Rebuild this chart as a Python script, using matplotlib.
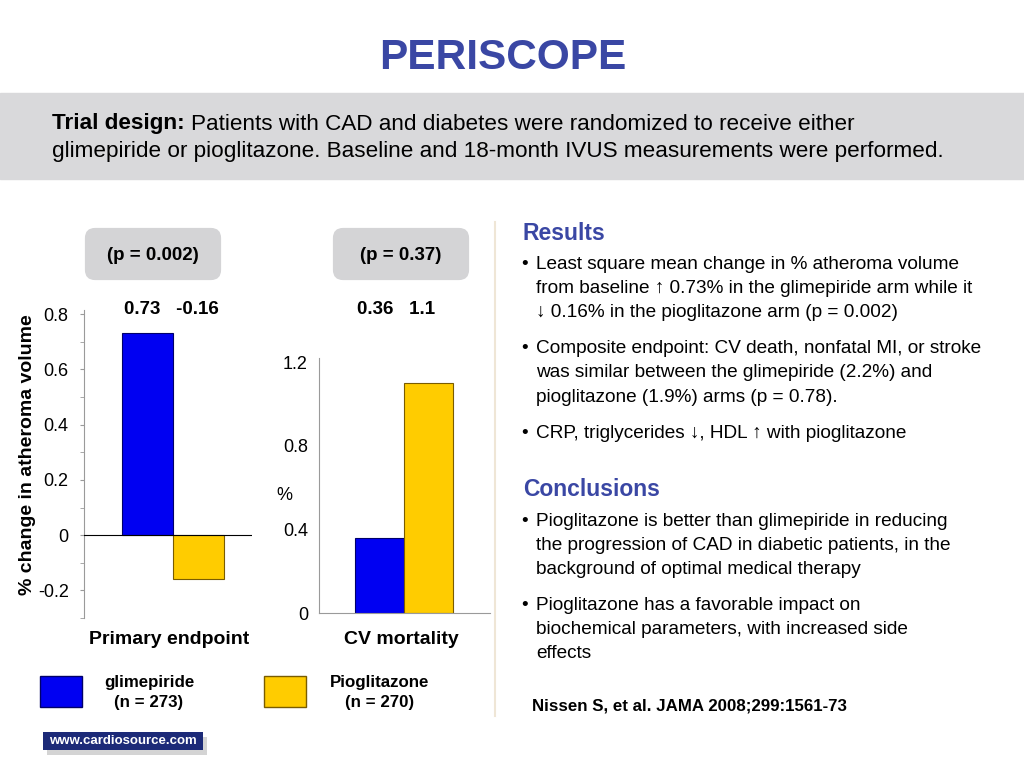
import matplotlib
matplotlib.use('Agg')
import matplotlib.pyplot as plt
from matplotlib.patches import FancyBboxPatch, Rectangle

plt.rcParams['font.family'] = ['Liberation Sans', 'DejaVu Sans']

# data
arms = ['glimepiride', 'Pioglitazone']
arm_n = ['(n = 273)', '(n = 270)']
atheroma_change = [0.73, -0.16]
cv_mortality = [0.36, 1.1]
p_values = ['(p = 0.002)', '(p = 0.37)']
panel_names = ['Primary endpoint', 'CV mortality']
left_ticks = [-0.2, 0, 0.2, 0.4, 0.6, 0.8]
right_ticks = [0, 0.4, 0.8, 1.2]

arm_colors = ['#0000f2', '#ffcc00']
edge_colors = ['#00006a', '#7a5c00']
navy = '#3a47a4'

results = [
    ['Least square mean change in % atheroma volume',
     'from baseline \u2191 0.73% in the glimepiride arm while it',
     '\u2193 0.16% in the pioglitazone arm (p = 0.002)'],
    ['Composite endpoint: CV death, nonfatal MI, or stroke',
     'was similar between the glimepiride (2.2%) and',
     'pioglitazone (1.9%) arms (p = 0.78).'],
    ['CRP, triglycerides \u2193, HDL \u2191 with pioglitazone'],
]
conclusions = [
    ['Pioglitazone is better than glimepiride in reducing',
     'the progression of CAD in diabetic patients, in the',
     'background of optimal medical therapy'],
    ['Pioglitazone has a favorable impact on',
     'biochemical parameters, with increased side',
     'effects'],
]

W, H = 1024, 768
fig = plt.figure(figsize=(W / 100, H / 100), dpi=100)


def fx(x):
    return x / W


def fy(y):
    return 1 - y / H


def txt(x, y, s, **kw):
    return fig.text(fx(x), fy(y), s, **kw)


# title and trial design band
txt(503, 58, 'PERISCOPE', ha='center', va='center', fontsize=30.5,
    fontweight='bold', color=navy)
fig.patches.append(Rectangle((0, fy(179)), 1, (179 - 93) / H,
                             transform=fig.transFigure, color='#d9d9db', zorder=0))
bold = txt(52, 124, 'Trial design:', ha='left', va='center', fontsize=16.2,
           fontweight='bold')
r = fig.canvas.get_renderer()
bx = bold.get_window_extent(r).x1
txt(bx + 6, 124, 'Patients with CAD and diabetes were randomized to receive either',
    ha='left', va='center', fontsize=16.2)
txt(52, 151, 'glimepiride or pioglitazone. Baseline and 18-month IVUS measurements were performed.',
    ha='left', va='center', fontsize=16.2)

# separator
fig.add_artist(plt.Line2D([fx(495), fx(495)], [fy(222), fy(716)],
                          transform=fig.transFigure, color='#efe6d6', lw=1.5))

# left panel: % change in atheroma volume
ax1 = fig.add_axes([fx(84), fy(618), (252 - 84) / W, (618 - 310) / H])
ax1.bar([-0.5, 0.5], atheroma_change, width=1.0, color=arm_colors,
        edgecolor=edge_colors, linewidth=0.8, zorder=2)
ax1.axhline(0, color='black', lw=0.8, zorder=3)
ax1.set_xlim(-1.745, 1.55)
ax1.set_ylim(-0.3, 0.815)
ax1.set_yticks(left_ticks)
ax1.set_yticklabels([f'{v:g}' for v in left_ticks])
ax1.set_yticks([v / 10 for v in range(-3, 9)], minor=True)
ax1.set_xticks([])
for s in ['top', 'right', 'bottom']:
    ax1.spines[s].set_visible(False)
ax1.spines['left'].set_color('#9a9a9a')
ax1.spines['left'].set_linewidth(0.8)
ax1.tick_params(axis='y', which='both', length=3, color='#9a9a9a', labelsize=13, pad=8)
ax1.patch.set_alpha(0)

# right panel: CV mortality
ax2 = fig.add_axes([fx(319), fy(613), (490 - 319) / W, (613 - 358) / H])
ax2.bar([-0.5, 0.5], cv_mortality, width=1.0, color=arm_colors,
        edgecolor=edge_colors, linewidth=0.8, zorder=2)
ax2.set_xlim(-1.75, 1.77)
ax2.set_ylim(0, 1.22)
ax2.set_yticks(right_ticks)
ax2.set_yticklabels([f'{v:g}' for v in right_ticks])
ax2.set_xticks([])
for s in ['top', 'right']:
    ax2.spines[s].set_visible(False)
for s in ['left', 'bottom']:
    ax2.spines[s].set_color('#9a9a9a')
    ax2.spines[s].set_linewidth(0.8)
ax2.tick_params(axis='y', length=0, labelsize=13, pad=8)
ax2.patch.set_alpha(0)

txt(28, 455, '% change in atheroma volume', rotation=90, ha='center', va='center',
    fontsize=14, fontweight='bold')
txt(284, 496, '%', ha='center', va='center', fontsize=13)

# p-value boxes, value labels, panel names
for cx, vx, nx, p, vals, name in zip([153, 401], [171, 396], [169, 401], p_values,
                                     [atheroma_change, cv_mortality], panel_names):
    box = FancyBboxPatch((fx(cx - 64), fy(276)), 128 / W, 44 / H,
                         boxstyle='round,pad=0.004,rounding_size=0.01',
                         transform=fig.transFigure, facecolor='#d4d4d6',
                         edgecolor='none', mutation_aspect=W / H)
    fig.patches.append(box)
    txt(cx, 255, p, ha='center', va='center', fontsize=13.5, fontweight='bold')
    txt(vx, 309, f'{vals[0]:g}   {vals[1]:g}', ha='center', va='center',
        fontsize=13.5, fontweight='bold')
    txt(nx, 640, name, ha='center', va='center', fontsize=14, fontweight='bold')

# legend
for lx, tx, name, n, c, ec in zip([40, 264], [149, 380], arms, arm_n, arm_colors, edge_colors):
    fig.patches.append(Rectangle((fx(lx), fy(707)), 42 / W, 31 / H,
                                 transform=fig.transFigure, facecolor=c,
                                 edgecolor=ec, lw=1))
    txt(tx, 682, name, ha='center', va='center', fontsize=12.2, fontweight='bold')
    txt(tx, 702, n, ha='center', va='center', fontsize=12.2, fontweight='bold')

# cardiosource badge
fig.patches.append(Rectangle((fx(47), fy(755)), 160 / W, 18 / H,
                             transform=fig.transFigure, facecolor='#b8b8b8',
                             edgecolor='none', alpha=0.6))
fig.patches.append(Rectangle((fx(43), fy(750)), 160 / W, 18 / H,
                             transform=fig.transFigure, facecolor='#1c2a78',
                             edgecolor='none'))
txt(123, 741, 'www.cardiosource.com', ha='center', va='center', fontsize=9.5,
    fontweight='bold', color='white')

# results and conclusions
txt(523, 233, 'Results', ha='left', va='center', fontsize=16.5, fontweight='bold', color=navy)
y = 265
for item in results:
    txt(521, y, '\u2022', ha='left', va='center', fontsize=13.7)
    for line in item:
        txt(536, y, line, ha='left', va='center', fontsize=13.7)
        y += 24
    y += 12

txt(523, 489, 'Conclusions', ha='left', va='center', fontsize=16.5, fontweight='bold', color=navy)
y = 521
for item in conclusions:
    txt(521, y, '\u2022', ha='left', va='center', fontsize=13.7)
    for line in item:
        txt(536, y, line, ha='left', va='center', fontsize=13.7)
        y += 24
    y += 12

txt(532, 706, 'Nissen S, et al. JAMA 2008;299:1561-73', ha='left', va='center',
    fontsize=12.2, fontweight='bold')

fig.savefig('out.png', dpi=100)
